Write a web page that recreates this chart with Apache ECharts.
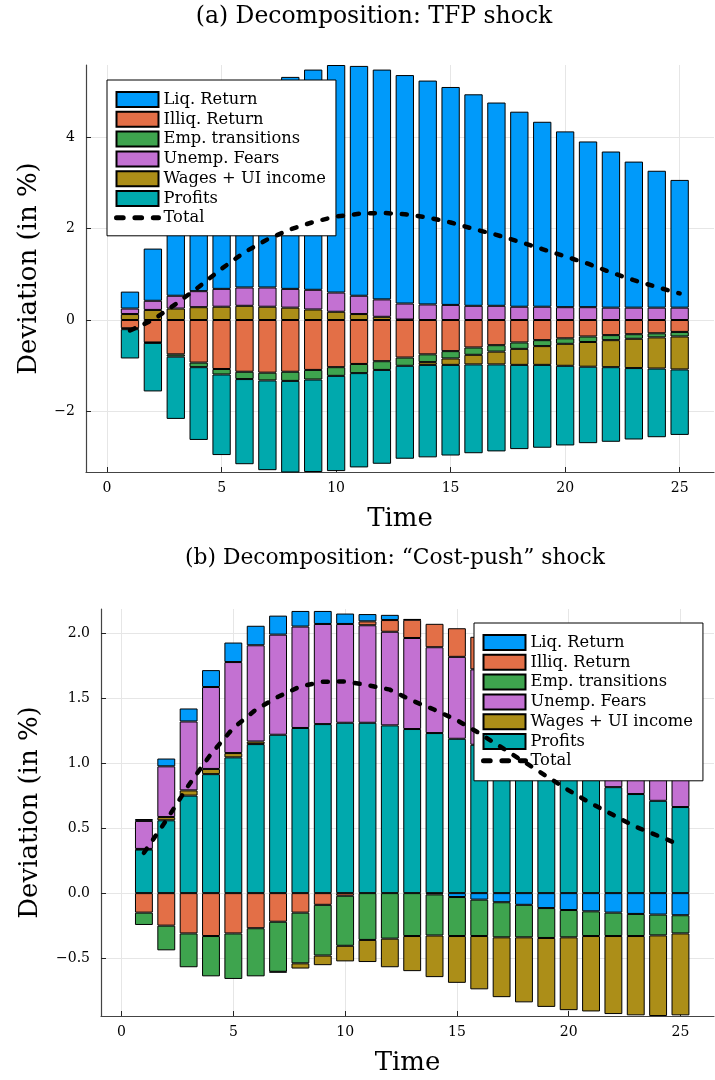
<!DOCTYPE html>
<html>
<head>
<meta charset="utf-8">
<script src="https://cdn.jsdelivr.net/npm/echarts@6/dist/echarts.min.js"></script>
<style>
  html, body { margin: 0; padding: 0; background: #fff; }
  #chart { width: 715px; height: 1080px; }
</style>
</head>
<body>
<div id="chart"></div>
<script>
// Horizon (quarters after the shock)
const periods = [1, 2, 3, 4, 5, 6, 7, 8, 9, 10, 11, 12, 13, 14, 15, 16, 17, 18, 19, 20, 21, 22, 23, 24, 25];

const componentNames = ['Liq. Return', 'Illiq. Return', 'Emp. transitions', 'Unemp. Fears', 'Wages + UI income', 'Profits'];
const totalName = 'Total';

// (a) TFP shock: contribution of each channel (deviation in %)
const tfpLiq     = [0.37, 1.14, 1.98, 2.71, 3.39, 3.92, 4.34, 4.63, 4.81, 4.97, 5.02, 5.02, 4.99, 4.89, 4.76, 4.62, 4.44, 4.26, 4.04, 3.84, 3.62, 3.41, 3.19, 2.99, 2.79];
const tfpIlliq   = [-0.18, -0.49, -0.75, -0.93, -1.07, -1.13, -1.15, -1.13, -1.09, -1.03, -0.96, -0.90, -0.82, -0.75, -0.68, -0.60, -0.55, -0.49, -0.44, -0.40, -0.36, -0.33, -0.31, -0.29, -0.26];
const tfpEmp     = [-0.02, -0.01, -0.05, -0.10, -0.12, -0.16, -0.17, -0.20, -0.21, -0.19, -0.20, -0.19, -0.18, -0.17, -0.16, -0.16, -0.14, -0.14, -0.13, -0.12, -0.12, -0.11, -0.10, -0.09, -0.10];
const tfpUnemp   = [0.12, 0.20, 0.28, 0.35, 0.39, 0.40, 0.42, 0.41, 0.43, 0.42, 0.40, 0.38, 0.35, 0.34, 0.33, 0.31, 0.31, 0.29, 0.29, 0.28, 0.28, 0.27, 0.27, 0.27, 0.27];
const tfpWages   = [0.13, 0.22, 0.25, 0.28, 0.29, 0.31, 0.29, 0.27, 0.23, 0.18, 0.13, 0.07, 0.01, -0.06, -0.14, -0.21, -0.28, -0.35, -0.41, -0.48, -0.54, -0.59, -0.64, -0.68, -0.72];
const tfpProfits = [-0.64, -1.06, -1.36, -1.59, -1.76, -1.86, -1.96, -2.00, -2.02, -2.08, -2.06, -2.05, -2.03, -2.02, -1.98, -1.94, -1.90, -1.84, -1.81, -1.74, -1.67, -1.63, -1.56, -1.50, -1.43];
const tfpTotal   = [-0.23, 0.00, 0.35, 0.72, 1.12, 1.48, 1.76, 1.98, 2.14, 2.26, 2.32, 2.34, 2.31, 2.24, 2.13, 1.99, 1.86, 1.71, 1.55, 1.39, 1.23, 1.04, 0.87, 0.72, 0.58];

// (b) "Cost-push" shock
const cpLiq     = [0.015, 0.06, 0.10, 0.13, 0.15, 0.15, 0.146, 0.12, 0.10, 0.08, 0.056, 0.04, 0.005, -0.01, -0.03, -0.05, -0.07, -0.09, -0.115, -0.13, -0.14, -0.15, -0.16, -0.165, -0.17];
const cpIlliq   = [-0.15, -0.25, -0.31, -0.33, -0.31, -0.27, -0.22, -0.15, -0.09, -0.02, 0.03, 0.09, 0.14, 0.18, 0.22, 0.25, 0.27, 0.28, 0.29, 0.30, 0.30, 0.30, 0.30, 0.30, 0.30];
const cpEmp     = [-0.095, -0.19, -0.26, -0.31, -0.35, -0.37, -0.385, -0.39, -0.39, -0.385, -0.36, -0.35, -0.33, -0.316, -0.30, -0.28, -0.27, -0.25, -0.23, -0.21, -0.19, -0.18, -0.17, -0.16, -0.14];
const cpUnemp   = [0.215, 0.39, 0.53, 0.63, 0.70, 0.74, 0.77, 0.78, 0.77, 0.76, 0.75, 0.72, 0.70, 0.66, 0.63, 0.58, 0.555, 0.52, 0.487, 0.457, 0.438, 0.42, 0.39, 0.38, 0.35];
const cpWages   = [0.005, 0.025, 0.04, 0.04, 0.033, 0.02, -0.005, -0.04, -0.074, -0.12, -0.17, -0.22, -0.27, -0.32, -0.36, -0.41, -0.46, -0.50, -0.53, -0.56, -0.58, -0.60, -0.61, -0.62, -0.63];
const cpProfits = [0.335, 0.56, 0.75, 0.915, 1.044, 1.146, 1.218, 1.27, 1.30, 1.31, 1.31, 1.29, 1.262, 1.231, 1.187, 1.141, 1.09, 1.04, 0.99, 0.93, 0.87, 0.815, 0.762, 0.71, 0.662];
const cpTotal   = [0.31, 0.56, 0.83, 1.07, 1.27, 1.41, 1.51, 1.59, 1.625, 1.628, 1.60, 1.565, 1.48, 1.41, 1.33, 1.23, 1.12, 1.01, 0.90, 0.79, 0.69, 0.60, 0.51, 0.44, 0.37];

// Tick labels
const xTicks = [0, 5, 10, 15, 20, 25];
const yTicksA = [-2, 0, 2, 4];
const yTicksB = [-0.5, 0.0, 0.5, 1.0, 1.5, 2.0];

const palette = ['#009AFA', '#E36F47', '#3EA44E', '#C371D2', '#AC8E18', '#00A9AD'];
const serif = '"DejaVu Serif", "Liberation Serif", serif';
const minus = s => String(s).replace('-', '\u2212');

// Value first, period second: the value dimension is the one that gets stacked.
function barSeries(name, color, values, gridIdx, stack) {
  return {
    type: 'bar',
    name: name,
    xAxisIndex: gridIdx,
    yAxisIndex: gridIdx,
    stack: stack,
    stackStrategy: 'samesign',
    barWidth: '80%',
    encode: { x: 1, y: 0 },
    itemStyle: { color: color, borderColor: '#000', borderWidth: 1 },
    emphasis: { disabled: true },
    data: periods.map((t, i) => [values[i] === null ? '-' : values[i], t])
  };
}

// Negative contributions pile downward in legend order,
// positive contributions pile upward in reverse legend order.
function panelSeries(parts, total, gridIdx, stack) {
  const out = [];
  parts.forEach((vals, k) => {
    out.push(barSeries(componentNames[k], palette[k], vals.map(v => (v < 0 ? v : null)), gridIdx, stack));
  });
  for (let k = parts.length - 1; k >= 0; k--) {
    out.push(barSeries(componentNames[k], palette[k], parts[k].map(v => (v > 0 ? v : null)), gridIdx, stack));
  }
  out.push({
    type: 'line',
    name: totalName,
    xAxisIndex: gridIdx,
    yAxisIndex: gridIdx,
    symbol: 'none',
    z: 10,
    itemStyle: { color: '#000' },
    lineStyle: { color: '#000', width: 4.5, type: [5, 11], cap: 'round' },
    emphasis: { disabled: true },
    data: periods.map((t, i) => [t, total[i]])
  });
  return out;
}

function xAxis(gridIdx) {
  return {
    type: 'value', gridIndex: gridIdx, min: -0.92, max: 26.5,
    name: 'Time', nameLocation: 'middle', nameGap: 34,
    nameTextStyle: { fontFamily: serif, fontSize: 26, color: '#000' },
    axisLine: { show: true, onZero: false, lineStyle: { color: '#444', width: 1.2 } },
    axisTick: { show: true, inside: true, length: 5, customValues: xTicks, lineStyle: { color: '#222' } },
    axisLabel: { customValues: xTicks, fontFamily: serif, fontSize: 14, color: '#000', margin: 9 },
    splitLine: { show: true, lineStyle: { color: '#e6e6e6', width: 1 } }
  };
}

function yAxis(gridIdx, min, max, ticks, fmt, gap) {
  return {
    type: 'value', gridIndex: gridIdx, min: min, max: max,
    name: 'Deviation (in %)', nameLocation: 'middle', nameGap: gap,
    nameTextStyle: { fontFamily: serif, fontSize: 26, color: '#000' },
    axisLine: { show: true, onZero: false, lineStyle: { color: '#444', width: 1.2 } },
    axisTick: { show: true, inside: true, length: 5, customValues: ticks, lineStyle: { color: '#222' } },
    axisLabel: { customValues: ticks, formatter: fmt, fontFamily: serif, fontSize: 14, color: '#000', margin: 11 },
    splitLine: { show: true, lineStyle: { color: '#e6e6e6', width: 1 } }
  };
}

function legend(left, top, padBottom) {
  return {
    orient: 'vertical', left: left, top: top,
    itemWidth: 42, itemHeight: 15, itemGap: 2.8,
    padding: [11, 10, padBottom, 7],
    borderColor: '#000', borderWidth: 1, borderRadius: 0, backgroundColor: '#fff',
    selectedMode: false,
    textStyle: { fontFamily: serif, fontSize: 16.3, color: '#000', lineHeight: 15 },
    data: componentNames.map(n => ({ name: n, icon: 'rect' })).concat([{
      name: totalName,
      itemStyle: { opacity: 0 },
      lineStyle: { color: '#000', width: 5, type: [6.7, 11.7], cap: 'round' }
    }])
  };
}

const chart = echarts.init(document.getElementById('chart'), null, { renderer: 'canvas' });

chart.setOption({
  animation: false,
  backgroundColor: '#fff',
  graphic: [
    { type: 'text', x: 374, y: 17, style: { text: '(a) Decomposition: TFP shock', font: '23.5px ' + serif, fill: '#000', textAlign: 'center', textVerticalAlign: 'middle' } },
    { type: 'text', x: 395, y: 558, style: { text: '(b) Decomposition: \u201cCost-push\u201d shock', font: '21.8px ' + serif, fill: '#000', textAlign: 'center', textVerticalAlign: 'middle' } }
  ],
  grid: [
    { left: 86, top: 65, width: 628, height: 407, containLabel: false },
    { left: 101, top: 609, width: 613, height: 407, containLabel: false }
  ],
  xAxis: [xAxis(0), xAxis(1)],
  yAxis: [
    yAxis(0, -3.32, 5.57, yTicksA, v => minus(v), 44),
    yAxis(1, -0.945, 2.185, yTicksB, v => minus(v.toFixed(1)), 58)
  ],
  legend: [legend(107, 80, 10), legend(474, 623, 12)],
  series: panelSeries([tfpLiq, tfpIlliq, tfpEmp, tfpUnemp, tfpWages, tfpProfits], tfpTotal, 0, 'tfp')
    .concat(panelSeries([cpLiq, cpIlliq, cpEmp, cpUnemp, cpWages, cpProfits], cpTotal, 1, 'costpush'))
});
</script>
</body>
</html>
